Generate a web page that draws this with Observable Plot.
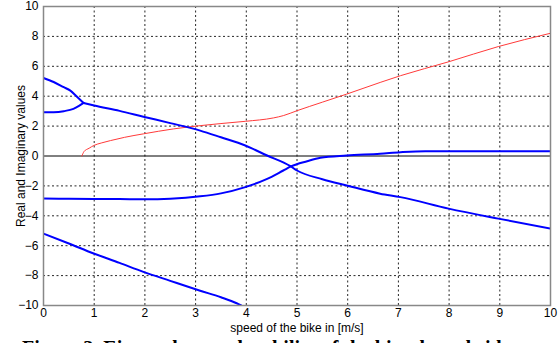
<!DOCTYPE html>
<html>
<head>
<meta charset="utf-8">
<script src="https://cdn.jsdelivr.net/npm/d3@7"></script>
<script src="https://cdn.jsdelivr.net/npm/@observablehq/plot@0.6"></script>
<style>
  html, body { margin: 0; padding: 0; background: #fff; overflow: hidden; }
  #chart svg { display: block; }
  #caption { font-family: "Liberation Serif", "DejaVu Serif", serif; font-weight: bold; font-size: 20px;
             margin: 0; padding-left: 22px; line-height: 20px; margin-top: 0px; white-space: nowrap; }
</style>
</head>
<body>
<div id="chart"></div>
<div id="caption">Figure 3. Eigenvalues and stability of the bicycle and rider</div>
<script>
// Upper weave branch (before merging)
const weaveUpperX = [0, 0.2, 0.4, 0.53, 0.65, 0.79];
const weaveUpperY = [5.22, 4.95, 4.6, 4.37, 4.0, 3.55];
// Lower weave branch (before merging)
const weaveLowerX = [0, 0.2, 0.4, 0.59, 0.7, 0.79];
const weaveLowerY = [2.92, 2.93, 3.0, 3.15, 3.35, 3.55];
// Merged descending curve
const descX = [0.79, 1.0, 1.5, 1.97, 2.5, 3.09, 3.5, 3.98, 4.4, 4.87, 5.0, 5.5, 5.98, 6.64, 7.04, 7.99, 8.97, 10];
const descY = [3.55, 3.38, 3.02, 2.63, 2.2, 1.7, 1.25, 0.7, 0.05, -0.68, -0.97, -1.55, -1.97, -2.52, -2.75, -3.52, -4.19, -4.85];
// Weave real part rising curve
const riseX = [0, 0.5, 1.0, 1.5, 2.0, 2.5, 3.09, 3.5, 3.98, 4.4, 4.73, 4.88, 5.2, 5.46, 5.98, 6.64, 7.04, 7.53, 8, 9, 10];
const riseY = [-2.85, -2.86, -2.87, -2.88, -2.9, -2.86, -2.7, -2.5, -2.08, -1.55, -0.97, -0.7, -0.35, -0.12, 0.03, 0.15, 0.25, 0.32, 0.32, 0.32, 0.32];
// Castor mode
const castorX = [0, 0.5, 0.99, 1.5, 1.97, 2.5, 3.09, 3.5, 3.81, 3.9];
const castorY = [-5.19, -5.85, -6.52, -7.15, -7.75, -8.35, -9.01, -9.45, -9.85, -10.0];
// Imaginary part (red)
const imagX = [0.757, 0.8, 0.9, 0.99, 1.15, 1.32, 1.6, 1.97, 2.56, 3.09, 3.5, 3.98, 4.54, 4.73, 5.0, 5.5, 5.98, 6.64, 7.04, 7.99, 8.97, 10];
const imagY = [0, 0.3, 0.52, 0.7, 0.88, 1.03, 1.25, 1.48, 1.81, 2.03, 2.17, 2.32, 2.55, 2.7, 3.03, 3.6, 4.14, 4.92, 5.37, 6.3, 7.32, 8.21];

const xTicks = [0, 1, 2, 3, 4, 5, 6, 7, 8, 9, 10];
const yTicks = [-10, -8, -6, -4, -2, 0, 2, 4, 6, 8, 10];
const xGrid = [1, 2, 3, 4, 5, 6, 7, 8, 9];
const yGrid = [-8, -6, -4, -2, 2, 4, 6, 8];

const toPts = (xs, ys) => xs.map((x, i) => ({x, y: ys[i]}));

const blueStyle = {x: "x", y: "y", stroke: "#0000ff", strokeWidth: 2, curve: "monotone-x", clip: true};

const chart = Plot.plot({
  width: 559,
  height: 338,
  marginLeft: 43,
  marginRight: 9,
  marginTop: 6,
  marginBottom: 33,
  style: {fontFamily: "Liberation Sans, Arial, sans-serif", fontSize: "12px", color: "#000"},
  x: {domain: [0, 10], ticks: xTicks, tickSize: 0, tickPadding: 4, label: null},
  y: {domain: [-10, 10], ticks: yTicks, tickSize: 0, tickPadding: 5, label: null},
  marks: [
    Plot.ruleX(xGrid, {stroke: "#000", strokeDasharray: "2,2.5", strokeWidth: 1, strokeOpacity: 0.85}),
    Plot.ruleY(yGrid, {stroke: "#000", strokeDasharray: "2,2.5", strokeWidth: 1, strokeOpacity: 0.85}),
    Plot.ruleY([0], {stroke: "#000", strokeWidth: 1}),
    Plot.line(toPts(imagX, imagY), {x: "x", y: "y", stroke: "#ff3a3a", strokeWidth: 1, curve: "monotone-x"}),
    Plot.line(toPts(weaveUpperX, weaveUpperY), blueStyle),
    Plot.line(toPts(weaveLowerX, weaveLowerY), blueStyle),
    Plot.line(toPts(descX, descY), blueStyle),
    Plot.line(toPts(riseX, riseY), blueStyle),
    Plot.line(toPts(castorX, castorY), blueStyle),
    Plot.frame({stroke: "#888", strokeWidth: 1.5}),
    Plot.axisX({ticks: xTicks, tickSize: 0, tickPadding: 3, label: null}),
    Plot.axisY({ticks: yTicks, tickSize: 0, tickPadding: 5, label: null}),
    Plot.text(["speed of the bike in [m/s]"], {frameAnchor: "bottom", lineAnchor: "middle", textAnchor: "middle", dy: 23, fontSize: 12, fill: "#000"}),
    Plot.text(["Real and Imaginary values"], {frameAnchor: "left", lineAnchor: "middle", textAnchor: "middle", dx: -22, rotate: -90, fontSize: 12, fill: "#000"})
  ]
});
document.getElementById("chart").appendChild(chart);
</script>
</body>
</html>
